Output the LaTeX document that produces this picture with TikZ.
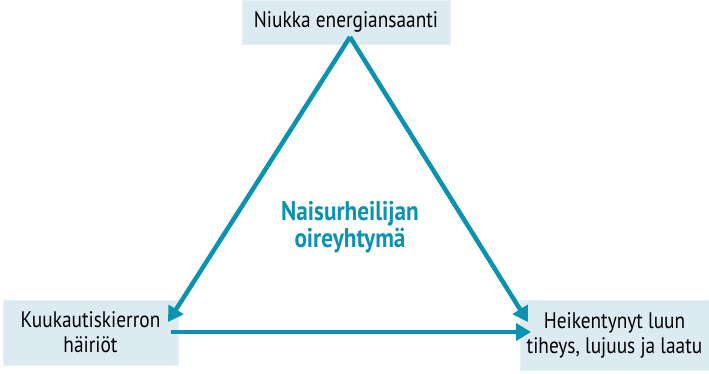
\documentclass[tikz,border=0pt]{standalone}
\usepackage{fontspec}
\setmainfont[FakeStretch=0.86]{PT Sans}
\usepackage{tikz}
\usetikzlibrary{arrows.meta}

\definecolor{mainteal}{RGB}{10,146,176}
\definecolor{boxblue}{RGB}{220,235,242}

\tikzset{
  box/.style={fill=boxblue, draw=boxblue!70!white, align=center, inner sep=0pt,
    font=\fontsize{22.5}{25}\selectfont},
  link/.style={mainteal, line width=4.5pt, -{Triangle[length=15pt,width=17pt]}}
}

\begin{document}
\begin{tikzpicture}[x=1pt,y=1pt]
\useasboundingbox (0,0) rectangle (709,373);
\node[box, minimum width=208pt, minimum height=44pt] (top) at (346,351) {Niukka energiansaanti};
\node[box, minimum width=175pt, minimum height=65pt] (left) at (90.5,40.5) {Kuukautiskierron\\häiriöt};
\node[box, minimum width=189pt, minimum height=70pt] (right) at (614.5,38) {Heikentynyt luun\\tiheys, lujuus ja laatu};
% triangle corners
\coordinate (apex) at (350,336);
\coordinate (lefttip) at (168,51);
\coordinate (righttip) at (528,51);
\coordinate (basestart) at (171,41);
\coordinate (baseend) at (531,41);
\draw[link] (apex) -- (lefttip);
\draw[link] (apex) -- (righttip);
\draw[link] (basestart) -- (baseend);
\node[mainteal, align=center, font=\fontsize{27}{27}\selectfont\bfseries] (name) at (350,146) {Naisurheilijan\\oireyhtymä};
\end{tikzpicture}
\end{document}
